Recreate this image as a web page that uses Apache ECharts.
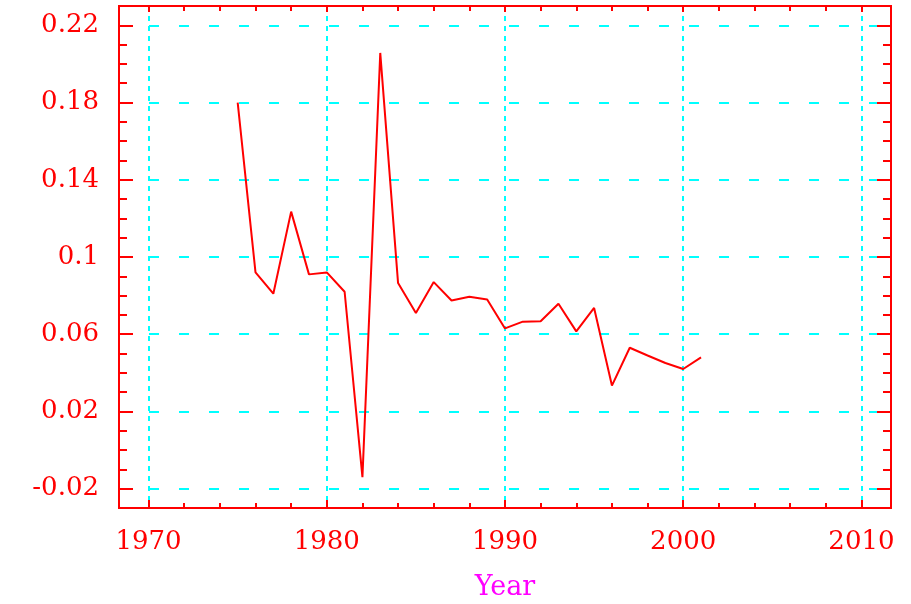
<!DOCTYPE html>
<html>
<head>
<meta charset="utf-8">
<style>
  html, body { margin: 0; padding: 0; background: #fff; }
  #chart { width: 911px; height: 604px; }
</style>
<script src="https://cdn.jsdelivr.net/npm/echarts@6/dist/echarts.min.js"></script>
</head>
<body>
<div id="chart"></div>
<script>
// data
const years = [1975, 1976, 1977, 1978, 1979, 1980, 1981, 1982, 1983, 1984, 1985, 1986, 1987, 1988,
  1989, 1990, 1991, 1992, 1993, 1994, 1995, 1996, 1997, 1998, 1999, 2000, 2001];
const values = [0.180, 0.092, 0.081, 0.1235, 0.091, 0.092, 0.082, -0.014, 0.2057, 0.0865, 0.071, 0.087, 0.0775, 0.0794,
  0.078, 0.063, 0.0665, 0.0667, 0.0758, 0.0615, 0.0736, 0.0334, 0.053, 0.049, 0.0451, 0.042, 0.048];

// tick labels
const xMajor = [1970, 1980, 1990, 2000, 2010];
const xMinor = [1970, 1972, 1974, 1976, 1978, 1980, 1982, 1984, 1986, 1988, 1990, 1992, 1994, 1996, 1998,
  2000, 2002, 2004, 2006, 2008, 2010];
const yMajor = [-0.02, 0.02, 0.06, 0.1, 0.14, 0.18, 0.22];
const yMinor = [-0.02, -0.01, 0, 0.01, 0.02, 0.03, 0.04, 0.05, 0.06, 0.07, 0.08, 0.09, 0.1, 0.11, 0.12,
  0.13, 0.14, 0.15, 0.16, 0.17, 0.18, 0.19, 0.2, 0.21, 0.22];

const xMin = 1968.34, xMax = 2011.66;
const yMin = -0.03, yMax = 0.23;

const red = "#ff0000";
const cyan = "#00ffff";
const font = "'DejaVu Serif', 'Liberation Serif', serif";

function xAx(pos, ticks, len, extra) {
  return Object.assign({
    type: "value",
    position: pos,
    min: xMin,
    max: xMax,
    axisLine: { show: true, onZero: false, lineStyle: { color: red, width: 2 } },
    axisTick: { show: true, inside: true, length: len, customValues: ticks, lineStyle: { color: red, width: 2 } },
    axisLabel: { show: false },
    splitLine: { show: false },
  }, extra || {});
}

function yAx(pos, ticks, len, extra) {
  return Object.assign({
    type: "value",
    position: pos,
    min: yMin,
    max: yMax,
    axisLine: { show: true, onZero: false, lineStyle: { color: red, width: 2 } },
    axisTick: { show: true, inside: true, length: len, customValues: ticks, lineStyle: { color: red, width: 2 } },
    axisLabel: { show: false },
    splitLine: { show: false },
  }, extra || {});
}

const myChart = echarts.init(document.getElementById("chart"), null, { renderer: "canvas" });

const option = {
  backgroundColor: "#fff",
  animation: false,
  grid: {
    left: 119,
    right: 20,
    top: 6,
    bottom: 96,
    containLabel: false,
    outerBoundsMode: "none",
  },
  xAxis: [
    xAx("bottom", xMajor, 8, {
      axisLabel: {
        show: true,
        customValues: xMajor,
        formatter: (v) => String(Math.round(v)),
        color: red,
        fontFamily: font,
        fontSize: 26,
        margin: 21,
      },
      splitLine: { show: true, lineStyle: { color: cyan, width: 2, type: [5, 5] } },
      name: "Year",
      nameLocation: "middle",
      nameGap: 66,
      nameTextStyle: { color: "#ff00ff", fontFamily: font, fontSize: 27 },
    }),
    xAx("bottom", xMinor, 5),
    xAx("top", xMajor, 6),
    xAx("top", xMinor, 5),
  ],
  yAxis: [
    yAx("left", yMajor, 14, {
      axisLabel: {
        show: true,
        customValues: yMajor,
        color: red,
        fontFamily: font,
        fontSize: 26,
        margin: 20,
      },
      splitLine: { show: true, lineStyle: { color: cyan, width: 2, type: [10, 20] } },
    }),
    yAx("left", yMinor, 8),
    yAx("right", yMajor, 14),
    yAx("right", yMinor, 8),
  ],
  series: [
    {
      type: "line",
      xAxisIndex: 0,
      yAxisIndex: 0,
      data: years.map((y, i) => [y, values[i]]),
      showSymbol: false,
      lineStyle: { color: red, width: 2 },
      z: 5,
    },
  ],
};

myChart.setOption(option);
</script>
</body>
</html>
